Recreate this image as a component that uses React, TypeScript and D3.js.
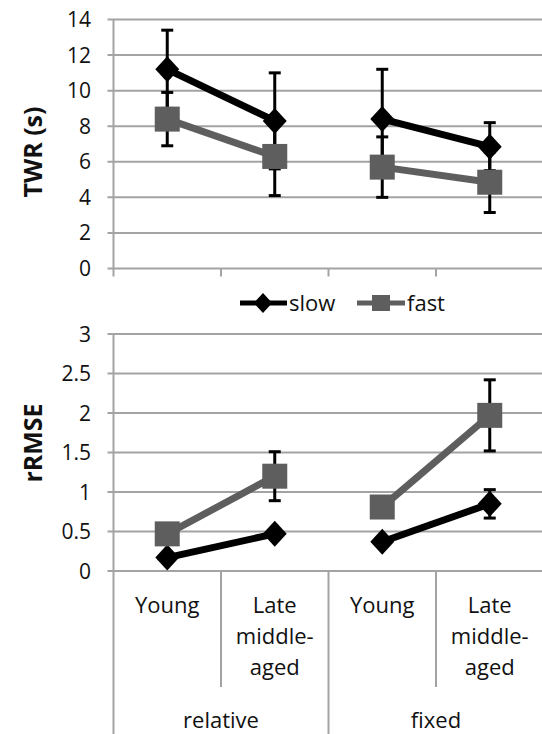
import React from "react";
import * as d3 from "d3";

const categories = ["Young", "Late middle-aged", "Young", "Late middle-aged"];
const groups = ["relative", "fixed"];
const seriesNames = ["slow", "fast"];

const twrSlow = [11.2, 8.3, 8.4, 6.85];
const twrSlowErr = [2.2, 2.7, 2.8, 1.35];
const twrFast = [8.4, 6.3, 5.7, 4.85];
const twrFastErr = [1.5, 2.2, 1.7, 1.7];

const rmseSlow = [0.17, 0.47, 0.37, 0.85];
const rmseSlowErr = [0.03, 0.05, 0.04, 0.18];
const rmseFast = [0.47, 1.2, 0.81, 1.97];
const rmseFastErr = [0.05, 0.31, 0.06, 0.45];

const twrTicks = [0, 2, 4, 6, 8, 10, 12, 14];
const rmseTicks = [0, 0.5, 1, 1.5, 2, 2.5, 3];

const W = 542;
const H = 734;
const FONT = "'Open Sans', sans-serif";
const GRID = "#a3a3a3";
const SLOW = "#000000";
const FAST = "#5e5e5e";
const TEXT = "#111";

const x0 = 113.5;
const bandW = 107.5;
const xBand = d3
  .scaleBand<number>()
  .domain(categories.map((_, i) => i))
  .range([x0, x0 + bandW * categories.length])
  .padding(0);
const xc = (i: number) => (xBand(i) as number) + xBand.bandwidth() / 2;

const diamondPath = (cx: number, cy: number, r: number) =>
  `M${cx},${cy - r}L${cx + r * 0.92},${cy}L${cx},${cy + r}L${cx - r * 0.92},${cy}Z`;

function Panel({
  y,
  ticks,
  slow,
  slowErr,
  fast,
  fastErr,
  label,
  labelY,
  fmt,
}: any) {
  const xEnd = W + 2;
  const line = d3
    .line<[number, number]>()
    .x((d) => xc(d[0]))
    .y((d) => y(d[1]));
  const groupPaths = (vals: number[]) =>
    groups.map((_, gi) =>
      line([
        [2 * gi, vals[2 * gi]],
        [2 * gi + 1, vals[2 * gi + 1]],
      ]) as string
    );
  const errBar = (vals: number[], errs: number[], key: string) =>
    vals.map((v, i) => {
      const x = xc(i);
      const yt = y(v + errs[i]);
      const yb = y(v - errs[i]);
      return (
        <g key={key + i} stroke="#000" strokeWidth={3}>
          <line x1={x} x2={x} y1={yt} y2={yb} />
          <line x1={x - 6} x2={x + 6} y1={yt} y2={yt} />
          <line x1={x - 6} x2={x + 6} y1={yb} y2={yb} />
        </g>
      );
    });
  return (
    <g>
      {ticks.map((t: number) => (
        <g key={t}>
          <line x1={x0 - 6} x2={xEnd} y1={y(t)} y2={y(t)} stroke={GRID} strokeWidth={2} />
          <text
            x={91}
            y={y(t)}
            dy="0.36em"
            textAnchor="end"
            fontSize={21}
            fontFamily={FONT}
            fill={TEXT}
          >
            {fmt(t)}
          </text>
        </g>
      ))}
      <text
        transform={`translate(33,${labelY}) rotate(-90)`}
        textAnchor="middle"
        dy="0.36em"
        fontSize={25}
        fontWeight="bold"
        fontFamily={FONT}
        fill={TEXT}
      >
        {label}
      </text>
      {errBar(slow, slowErr, "se")}
      {errBar(fast, fastErr, "fe")}
      {groupPaths(slow).map((d, k) => (
        <path key={"sl" + k} d={d} fill="none" stroke={SLOW} strokeWidth={7} />
      ))}
      {groupPaths(fast).map((d, k) => (
        <path key={"fl" + k} d={d} fill="none" stroke={FAST} strokeWidth={7} />
      ))}
      {slow.map((v: number, i: number) => (
        <path key={"sd" + i} d={diamondPath(xc(i), y(v), 13)} fill={SLOW} />
      ))}
      {fast.map((v: number, i: number) => (
        <rect
          key={"fs" + i}
          x={xc(i) - 12.5}
          y={y(v) - 12.5}
          width={25}
          height={25}
          fill={FAST}
        />
      ))}
    </g>
  );
}

export default function App() {
  const yTop = d3.scaleLinear().domain([0, 14]).range([268.5, 19.5]);
  const yBot = d3.scaleLinear().domain([0, 3]).range([571, 334]);
  const topBase = yTop(0);
  const botBase = yBot(0);

  return (
    <svg
      width={W}
      height={H}
      style={{ position: "absolute", left: 0, top: 0, background: "#fff" }}
    >
      <rect width={W} height={H} fill="#fff" />
      <Panel
        y={yTop}
        ticks={twrTicks}
        slow={twrSlow}
        slowErr={twrSlowErr}
        fast={twrFast}
        fastErr={twrFastErr}
        label="TWR (s)"
        labelY={152}
        fmt={(t: number) => String(t)}
      />
      <line x1={x0} x2={x0} y1={yTop(14)} y2={topBase + 8} stroke={GRID} strokeWidth={2} />
      {categories.map((_, i) => (
        <line
          key={"tt" + i}
          x1={(xBand(i) as number) + bandW}
          x2={(xBand(i) as number) + bandW}
          y1={topBase}
          y2={topBase + 8}
          stroke={GRID}
          strokeWidth={2}
        />
      ))}

      <g>
        <line x1={240} x2={287} y1={303} y2={303} stroke={SLOW} strokeWidth={5} />
        <path d={diamondPath(263, 303, 10)} fill={SLOW} />
        <text x={289} y={303} dy="0.36em" fontSize={22} fontFamily={FONT} fill={TEXT}>
          {seriesNames[0]}
        </text>
        <line x1={357} x2={405} y1={303} y2={303} stroke={FAST} strokeWidth={5} />
        <rect x={372} y={295} width={18} height={16} fill={FAST} />
        <text x={407} y={303} dy="0.36em" fontSize={22} fontFamily={FONT} fill={TEXT}>
          {seriesNames[1]}
        </text>
      </g>

      <Panel
        y={yBot}
        ticks={rmseTicks}
        slow={rmseSlow}
        slowErr={rmseSlowErr}
        fast={rmseFast}
        fastErr={rmseFastErr}
        label="rRMSE"
        labelY={443}
        fmt={(t: number) => String(t)}
      />
      <line x1={x0} x2={x0} y1={yBot(3)} y2={H + 2} stroke={GRID} strokeWidth={2} />
      {categories.map((_, i) => {
        const xr = (xBand(i) as number) + bandW;
        const groupEnd = i % 2 === 1;
        return (
          <line
            key={"bt" + i}
            x1={xr}
            x2={xr}
            y1={botBase}
            y2={groupEnd ? H + 2 : 687}
            stroke={GRID}
            strokeWidth={2}
          />
        );
      })}
      {categories.map((c, i) => {
        const words = c === "Young" ? ["Young"] : ["Late", "middle-", "aged"];
        return (
          <text
            key={"cl" + i}
            x={xc(i)}
            y={613}
            textAnchor="middle"
            fontSize={22}
            fontFamily={FONT}
            fill={TEXT}
          >
            {words.map((w, k) => (
              <tspan key={k} x={xc(i)} dy={k === 0 ? 0 : 31}>
                {w}
              </tspan>
            ))}
          </text>
        );
      })}
      {groups.map((g, gi) => (
        <text
          key={g}
          x={x0 + bandW * (2 * gi + 1)}
          y={728}
          textAnchor="middle"
          fontSize={22}
          fontFamily={FONT}
          fill={TEXT}
        >
          {g}
        </text>
      ))}
    </svg>
  );
}
